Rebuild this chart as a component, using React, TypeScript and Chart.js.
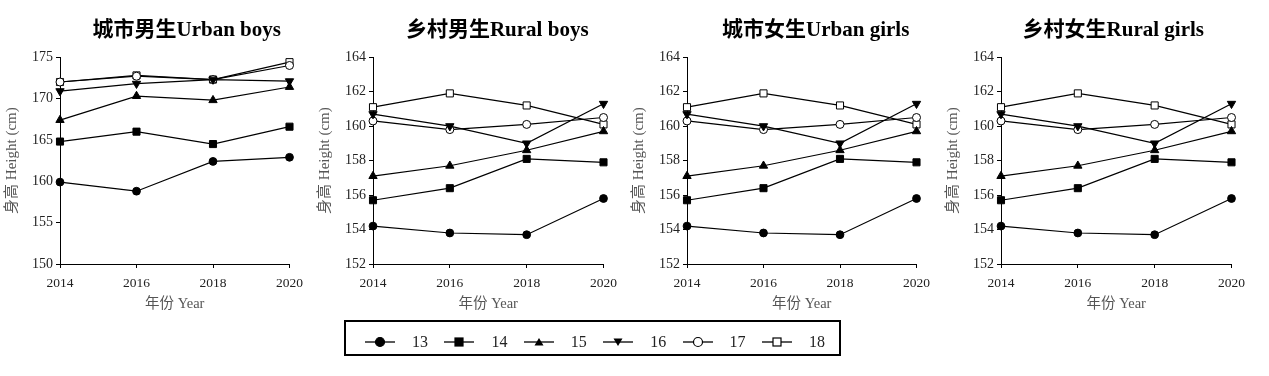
import React, { useEffect, useRef } from 'react';
import { Chart, registerables } from 'chart.js';

Chart.register(...registerables);

// ---------- data ----------
const years = ['2014', '2016', '2018', '2020'];
const ageGroups = ['13', '14', '15', '16', '17', '18'];

// rows: age 13..18, columns: 2014, 2016, 2018, 2020
const urbanBoys = [
  [159.9, 158.8, 162.4, 162.9],
  [164.8, 166.0, 164.5, 166.6],
  [167.4, 170.3, 169.8, 171.4],
  [170.9, 171.8, 172.3, 172.1],
  [172.0, 172.7, 172.3, 174.0],
  [172.0, 172.8, 172.3, 174.4],
];
const ruralBoys = [
  [154.2, 153.8, 153.7, 155.8],
  [155.7, 156.4, 158.1, 157.9],
  [157.1, 157.7, 158.6, 159.7],
  [160.7, 160.0, 159.0, 161.3],
  [160.3, 159.8, 160.1, 160.5],
  [161.1, 161.9, 161.2, 160.1],
];
const urbanGirls = [
  [154.2, 153.8, 153.7, 155.8],
  [155.7, 156.4, 158.1, 157.9],
  [157.1, 157.7, 158.6, 159.7],
  [160.7, 160.0, 159.0, 161.3],
  [160.3, 159.8, 160.1, 160.5],
  [161.1, 161.9, 161.2, 160.1],
];
const ruralGirls = [
  [154.2, 153.8, 153.7, 155.8],
  [155.7, 156.4, 158.1, 157.9],
  [157.1, 157.7, 158.6, 159.7],
  [160.7, 160.0, 159.0, 161.3],
  [160.3, 159.8, 160.1, 160.5],
  [161.1, 161.9, 161.2, 160.1],
];

const panelTitles = ['城市男生Urban boys', '乡村男生Rural boys', '城市女生Urban girls', '乡村女生Rural girls'];
const panelData = [urbanBoys, ruralBoys, urbanGirls, ruralGirls];
const yRanges = [
  { min: 150, max: 175, step: 5 },
  { min: 152, max: 164, step: 2 },
  { min: 152, max: 164, step: 2 },
  { min: 152, max: 164, step: 2 },
];
const yTitle = '身高 Height (cm)';
const xTitle = '年份 Year';

// ---------- styles ----------
const FONT = "'Liberation Serif', 'Noto Sans CJK SC', serif";
const markerStyles = ['circle', 'rect', 'triangle', 'triangle', 'circle', 'rect'];
const markerRotation = [0, 0, 0, 180, 0, 0];
const markerFill = ['#000', '#000', '#000', '#000', '#fff', '#fff'];
const markerRadius = [3.9, 5, 4.8, 4.8, 4, 5];

// plot-area placement in page pixels
const panelPlot = [
  { left: 60, right: 290, titleShift: 12 },
  { left: 373, right: 604, titleShift: 9 },
  { left: 687, right: 917, titleShift: 14 },
  { left: 1001, right: 1232, titleShift: -3 },
];
const Y_AXIS_W = 57;
const PAD_L = 4;
const PAD_R = 20;
const CANVAS_H = 322;

function Panel({ index }: { index: number }) {
  const ref = useRef<HTMLCanvasElement | null>(null);
  const plot = panelPlot[index];
  const left = plot.left - Y_AXIS_W - PAD_L;
  const width = plot.right + PAD_R - left;

  useEffect(() => {
    if (!ref.current) return;
    const rows = panelData[index];
    const yr = yRanges[index];
    const shift = plot.titleShift;
    const chart = new Chart(ref.current, {
      type: 'line',
      data: {
        labels: years,
        datasets: ageGroups.map((age, i) => ({
          label: age,
          data: rows[i],
          borderColor: '#000',
          borderWidth: 1.2,
          pointStyle: markerStyles[i] as any,
          pointRotation: markerRotation[i],
          pointRadius: markerRadius[i],
          pointBackgroundColor: markerFill[i],
          pointBorderColor: '#000',
          pointBorderWidth: 1,
          tension: 0,
          fill: false,
        })),
      },
      options: {
        responsive: false,
        animation: false,
        layout: { padding: { left: PAD_L, right: PAD_R, top: 0, bottom: 9 } },
        plugins: {
          legend: { display: false },
          tooltip: { enabled: false },
          title: {
            display: true,
            text: panelTitles[index],
            fullSize: false,
            color: '#000',
            font: { family: FONT, size: 21, weight: 'bold' },
            padding: { top: 18, bottom: 14 },
          },
        },
        scales: {
          x: {
            type: 'category',
            offset: false,
            grid: { drawOnChartArea: false, drawTicks: true, tickLength: 4, color: '#000' },
            border: { color: '#000', width: 1 },
            ticks: { color: '#222', font: { family: FONT, size: 13.5 }, padding: 7, maxRotation: 0 },
            title: {
              display: true,
              text: xTitle,
              color: '#555',
              font: { family: FONT, size: 14.5 },
              padding: { top: 0, bottom: 0 },
            },
            afterFit: (s: any) => {
              s.height = 49;
            },
          },
          y: {
            type: 'linear',
            min: yr.min,
            max: yr.max,
            grid: { drawOnChartArea: false, drawTicks: true, tickLength: 4, color: '#000' },
            border: { color: '#000', width: 1 },
            ticks: { stepSize: yr.step, color: '#222', font: { family: FONT, size: 14 }, padding: 3 },
            title: {
              display: true,
              text: yTitle,
              color: '#555',
              font: { family: FONT, size: 15 },
              padding: { top: 0, bottom: 0 },
            },
            afterFit: (s: any) => {
              s.width = Y_AXIS_W;
            },
          },
        },
      },
      plugins: [
        {
          id: 'titleShift',
          afterLayout(c: any) {
            const t = c.titleBlock;
            if (t) {
              t.left += shift;
              t.right += shift;
            }
          },
        },
      ],
    });
    return () => chart.destroy();
  }, [index]);

  return (
    <canvas
      ref={ref}
      width={width}
      height={CANVAS_H}
      style={{ position: 'absolute', left, top: 0, width, height: CANVAS_H }}
    />
  );
}

function LegendMarker({ i }: { i: number }) {
  const cx = 15;
  const cy = 7;
  const fill = markerFill[i];
  let shape: React.ReactNode = null;
  if (markerStyles[i] === 'circle') {
    shape = <circle cx={cx} cy={cy} r={4.5} fill={fill} stroke="#000" strokeWidth={1.2} />;
  } else if (markerStyles[i] === 'rect') {
    shape = <rect x={cx - 4} y={cy - 4} width={8} height={8} fill={fill} stroke="#000" strokeWidth={1.2} />;
  } else if (markerRotation[i] === 180) {
    shape = <polygon points={`${cx - 4.5},${cy - 3.5} ${cx + 4.5},${cy - 3.5} ${cx},${cy + 4}`} fill={fill} />;
  } else {
    shape = <polygon points={`${cx - 4.5},${cy + 3.5} ${cx + 4.5},${cy + 3.5} ${cx},${cy - 4}`} fill={fill} />;
  }
  return (
    <svg width={30} height={14} style={{ display: 'block' }}>
      <line x1={0} y1={cy} x2={30} y2={cy} stroke="#000" strokeWidth={1.3} />
      {shape}
    </svg>
  );
}

function Legend() {
  const boxLeft = 344;
  const boxTop = 320;
  const centerY = 342;
  return (
    <>
      <div
        style={{
          position: 'absolute',
          left: boxLeft,
          top: boxTop,
          width: 497,
          height: 36,
          border: '2px solid #000',
          boxSizing: 'border-box',
        }}
      />
      {ageGroups.map((age, i) => {
        const mx = 380 + 79.4 * i;
        return (
          <React.Fragment key={age}>
            <div style={{ position: 'absolute', left: mx - 15, top: centerY - 7 }}>
              <LegendMarker i={i} />
            </div>
            <div
              style={{
                position: 'absolute',
                left: mx + 40,
                top: centerY,
                transform: 'translate(-50%, -50%)',
                fontFamily: FONT,
                fontSize: 16,
                lineHeight: 1,
                color: '#222',
                whiteSpace: 'nowrap',
              }}
            >
              {age}
            </div>
          </React.Fragment>
        );
      })}
    </>
  );
}

export default function App() {
  return (
    <div style={{ position: 'absolute', left: 0, top: 0, width: 1269, height: 376, background: '#fff', overflow: 'hidden' }}>
      {panelTitles.map((_, i) => (
        <Panel key={i} index={i} />
      ))}
      <Legend />
    </div>
  );
}
